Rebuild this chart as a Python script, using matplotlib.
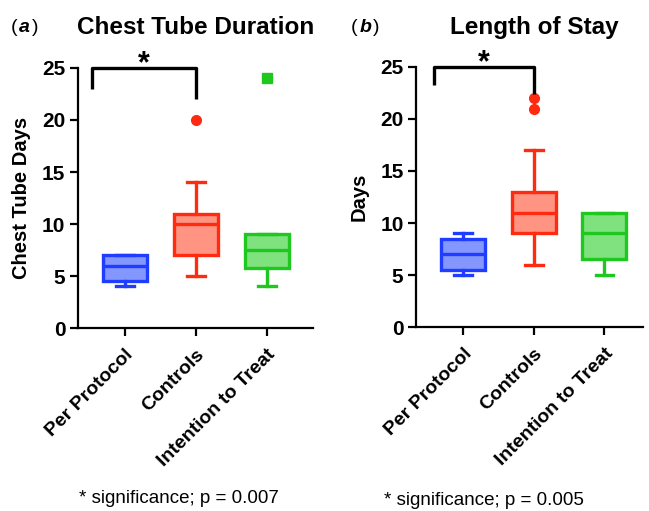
import matplotlib
matplotlib.use("Agg")
from matplotlib import pyplot as plt

plt.rcParams['font.family'] = ['Liberation Sans', 'DejaVu Sans']

groups = ['Per Protocol', 'Controls', 'Intention to Treat']
edge_colors = ['#1f3dff', '#ff2a10', '#1ec81e']
fill_colors = ['#8497ff', '#ff9483', '#80e27f']
flier_markers = ['o', 'o', 's']

# chest tube days: (whislo, q1, median, q3, whishi, outliers)
chest_low = [4, 5, 4]
chest_q1 = [4.5, 7, 5.8]
chest_med = [6, 10, 7.5]
chest_q3 = [7, 11, 9]
chest_high = [7, 14, 9]
chest_out = [[], [20], [24]]

# length of stay
stay_low = [5, 6, 5]
stay_q1 = [5.5, 9, 6.5]
stay_med = [7, 11, 9]
stay_q3 = [8.5, 13, 11]
stay_high = [9, 17, 11]
stay_out = [[], [21, 22], []]

panels = [
    dict(tag='a', title='Chest Tube Duration', ylabel='Chest Tube Days',
         low=chest_low, q1=chest_q1, med=chest_med, q3=chest_q3, high=chest_high, out=chest_out,
         bracket=(-0.46, 1.0, 23, 25, 22), pval='0.007',
         rect=[0.120, 0.358, 0.362, 0.509], xlim=(-0.66, 2.65),
         title_x=0.302, tag_x=0.038, note_x=0.276, note_y=0.024),
    dict(tag='b', title='Length of Stay', ylabel='Days',
         low=stay_low, q1=stay_q1, med=stay_med, q3=stay_q3, high=stay_high, out=stay_out,
         bracket=(-0.41, 1.0, 23.3, 25, 22.4), pval='0.005',
         rect=[0.641, 0.360, 0.350, 0.509], xlim=(-0.67, 2.55),
         title_x=0.824, tag_x=0.563, note_x=0.745, note_y=0.020),
]

fig = plt.figure(figsize=(6.49, 5.11), dpi=100)

for p in panels:
    ax = fig.add_axes(p['rect'])
    for i in range(3):
        stats = [dict(whislo=p['low'][i], q1=p['q1'][i], med=p['med'][i], q3=p['q3'][i],
                      whishi=p['high'][i], fliers=p['out'][i])]
        ec = edge_colors[i]
        ax.bxp(stats, positions=[i], widths=0.62, patch_artist=True, showcaps=True,
               boxprops=dict(facecolor=fill_colors[i], edgecolor=ec, linewidth=2.4),
               medianprops=dict(color=ec, linewidth=2.4),
               whiskerprops=dict(color=ec, linewidth=2.4),
               capprops=dict(color=ec, linewidth=2.4),
               capwidths=0.25,
               flierprops=dict(marker=flier_markers[i], markerfacecolor=ec,
                               markeredgecolor=ec, markersize=7))

    x0, x1, yl, yt, yr = p['bracket']
    ax.plot([x0, x0, x1, x1], [yl, yt, yt, yr], color='black', linewidth=2.4,
            clip_on=False, solid_capstyle='butt')
    ax.text((x0 + x1) / 2, yt + 0.4, '*', ha='center', va='center',
            fontsize=22, fontweight='bold', clip_on=False)

    ax.set_xlim(*p['xlim'])
    ax.set_ylim(0, 25)
    ax.set_yticks([0, 5, 10, 15, 20, 25])
    ax.set_xticks(range(3))
    ax.set_xticklabels(groups, rotation=45, ha='right', rotation_mode='anchor',
                       fontsize=14, fontweight='bold')
    for lab in ax.get_yticklabels():
        lab.set_fontweight('bold')
        lab.set_fontsize(15)
    ax.tick_params(axis='both', width=1.6, length=6, direction='out')
    ax.tick_params(axis='x', pad=7)
    ax.tick_params(axis='y', pad=3)
    for s in ['top', 'right']:
        ax.spines[s].set_visible(False)
    for s in ['left', 'bottom']:
        ax.spines[s].set_linewidth(1.6)
    ax.set_ylabel(p['ylabel'], fontsize=14.5, fontweight='bold', labelpad=8)

    fig.text(p['title_x'], 0.946, p['title'], ha='center', va='center',
             fontsize=17.5, fontweight='bold')
    tx = p['tag_x']
    fig.text(tx - 0.017, 0.946, '(', ha='center', va='center', fontsize=14)
    fig.text(tx, 0.946, p['tag'], ha='center', va='center', fontsize=14,
             fontweight='bold', fontstyle='italic')
    fig.text(tx + 0.016, 0.946, ')', ha='center', va='center', fontsize=14)
    fig.text(p['note_x'], p['note_y'], '* significance; p = ' + p['pval'],
             ha='center', va='center', fontsize=13.5)

fig.savefig('out.png', dpi=100)
